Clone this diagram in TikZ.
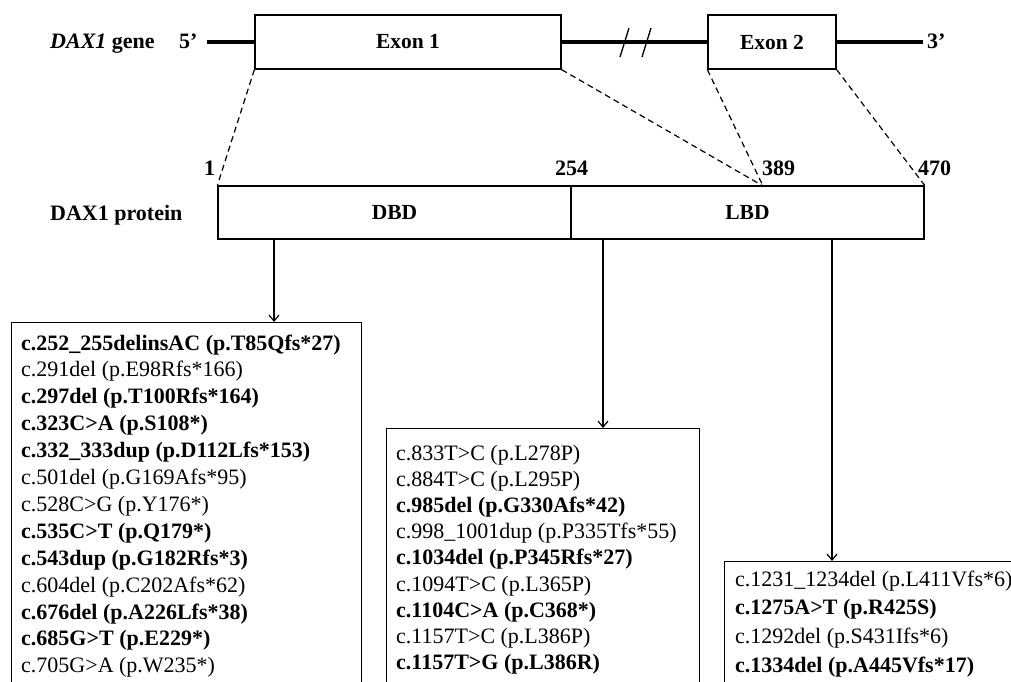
\documentclass[tikz,border=0pt]{standalone}
\usepackage{fontspec}
\setmainfont{Liberation Serif}
\usetikzlibrary{arrows.meta}
\begin{document}
\begin{tikzpicture}[x=1pt,y=1pt,
  every node/.style={inner sep=0pt},
  exonbox/.style={draw, line width=1.3pt, font=\fontsize{21.5}{25}\selectfont\bfseries},
  listbox/.style={draw, line width=1.3pt, anchor=north west},
  dashline/.style={line width=1.2pt, dash pattern=on 6pt off 4pt},
  genel/.style={line width=3.2pt},
  arr/.style={-{Straight Barb[length=6pt,width=10pt]}, line width=1.2pt},
  lbl/.style={font=\fontsize{22}{25}\selectfont\bfseries},
  mut/.style={anchor=base west, font=\fontsize{22}{25}\selectfont}
]
\useasboundingbox (0,0) rectangle (1011,-682);
\clip (0,0) rectangle (1011,-682);
% gene
\node[lbl, anchor=base west] (glab) at (50,-49) {\textit{DAX1} gene};
\node[lbl, anchor=base west] (five) at (179,-49) {5’};
\node[lbl, anchor=base west] (three) at (927,-49) {3’};
\coordinate (gstart) at (207,-42);
\coordinate (gend) at (923,-42);
\node[exonbox, minimum width=306pt, minimum height=54pt] (ex1) at (408,-42) {Exon 1};
\node[exonbox, minimum width=128pt, minimum height=54pt] (ex2) at (772,-42) {Exon 2};
\draw[genel] (gstart) -- (ex1.west);
\draw[genel] (ex1.east) -- (ex2.west);
\draw[genel] (ex2.east) -- (gend);
\coordinate (b1a) at (620,-57); \coordinate (b1b) at (629,-28);
\coordinate (b2a) at (642,-57); \coordinate (b2b) at (651,-28);
\draw[line width=1.3pt] (b1a) -- (b1b);
\draw[line width=1.3pt] (b2a) -- (b2b);
% protein
\node[lbl, anchor=base west] (plab) at (50,-220) {DAX1 protein};
\node[exonbox, minimum width=353pt, minimum height=53pt] (dbd) at (394.5,-212.5) {DBD};
\node[exonbox, minimum width=353pt, minimum height=53pt] (lbd) at (747.5,-212.5) {LBD};
\node[lbl, anchor=base west] (n1) at (204,-175) {1};
\node[lbl, anchor=base west] (n254) at (555,-175) {254};
\node[lbl, anchor=base west] (n389) at (762,-175) {389};
\node[lbl, anchor=base west] (n470) at (918,-175) {470};
\coordinate (p389) at (763,-186);
% dashed mapping
\draw[dashline] (ex1.south west) -- (dbd.north west);
\draw[dashline] (ex1.south east) -- (p389);
\draw[dashline] (ex2.south west) -- (p389);
\draw[dashline] (ex2.south east) -- (lbd.north east);
% list boxes
\node[listbox, minimum width=350pt, minimum height=400pt] (boxA) at (11,-322) {};
\node[listbox, minimum width=313pt, minimum height=300pt] (boxB) at (386,-428) {};
\node[listbox, minimum width=300pt, minimum height=200pt] (boxC) at (724,-561) {};
\draw[arr] (dbd.south -| 274,0) -- (boxA.north -| 274,0);
\draw[arr] (lbd.south -| 603,0) -- (boxB.north -| 603,0);
\draw[arr] (lbd.south -| 832,0) -- (boxC.north -| 832,0);
% list A
\foreach \t [count=\i] in {
  {\bfseries c.252\_255delinsAC (p.T85Qfs*27)},
  {c.291del (p.E98Rfs*166)},
  {\bfseries c.297del (p.T100Rfs*164)},
  {\bfseries c.323C>A (p.S108*)},
  {\bfseries c.332\_333dup (p.D112Lfs*153)},
  {c.501del (p.G169Afs*95)},
  {c.528C>G (p.Y176*)},
  {\bfseries c.535C>T (p.Q179*)},
  {\bfseries c.543dup (p.G182Rfs*3)},
  {c.604del (p.C202Afs*62)},
  {\bfseries c.676del (p.A226Lfs*38)},
  {\bfseries c.685G>T (p.E229*)},
  {c.705G>A (p.W235*)}}
  \node[mut] (a\i) at (21,-350-26.9*\i+26.9) {\t};
% list B
\foreach \t [count=\i] in {
  {c.833T>C (p.L278P)},
  {c.884T>C (p.L295P)},
  {\bfseries c.985del (p.G330Afs*42)},
  {c.998\_1001dup (p.P335Tfs*55)},
  {\bfseries c.1034del (p.P345Rfs*27)},
  {c.1094T>C (p.L365P)},
  {\bfseries c.1104C>A (p.C368*)},
  {c.1157T>C (p.L386P)},
  {\bfseries c.1157T>G (p.L386R)}}
  \node[mut] (b\i) at (396,-460-26.2*\i+26.2) {\t};
% list C
\foreach \t [count=\i] in {
  {c.1231\_1234del (p.L411Vfs*6)},
  {\bfseries c.1275A>T (p.R425S)},
  {c.1292del (p.S431Ifs*6)},
  {\bfseries c.1334del (p.A445Vfs*17)}}
  \node[mut] (c\i) at (735,-586-28.7*\i+28.7) {\t};
\end{tikzpicture}
\end{document}
